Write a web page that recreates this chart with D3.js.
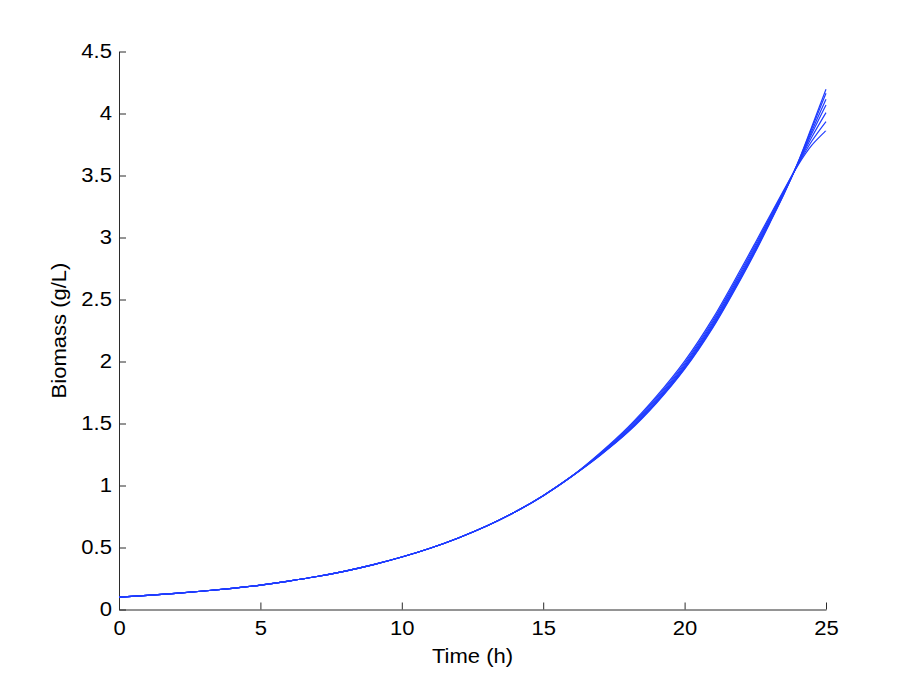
<!DOCTYPE html>
<html>
<head>
<meta charset="utf-8">
<script src="https://cdn.jsdelivr.net/npm/d3@7"></script>
<style>
  html, body { margin: 0; padding: 0; background: #fff; }
  svg { display: block; }
  text { font-family: "Liberation Sans", Arial, Helvetica, sans-serif; }
</style>
</head>
<body>
<svg id="chart" width="913" height="686"></svg>
<script>
// ---- Data ----
const times = [0,1,2,3,4,5,6,7,8,9,10,11,12,13,14,15,16,17,18,19,20,21,22,22.5,23,23.5,24,24.5,25];

// common early part (t = 0..16), identical for all runs
const early = [0.100,0.114,0.130,0.149,0.171,0.197,0.229,0.266,0.310,0.362,0.423,0.494,0.577,0.673,0.786,0.918,1.072];

// late part (t = 17..25) for each of the seven runs
const run1 = [1.240,1.430,1.663,1.938,2.273,2.670,2.883,3.110,3.343,3.600,3.895,4.196];
const run2 = [1.242,1.434,1.668,1.944,2.280,2.678,2.890,3.116,3.346,3.598,3.881,4.164];
const run3 = [1.245,1.440,1.676,1.953,2.291,2.689,2.901,3.125,3.351,3.595,3.859,4.115];
const run4 = [1.248,1.445,1.683,1.962,2.301,2.700,2.911,3.133,3.356,3.592,3.838,4.069];
const run5 = [1.251,1.453,1.694,1.974,2.315,2.715,2.925,3.144,3.362,3.589,3.810,4.007];
const run6 = [1.256,1.461,1.706,1.988,2.331,2.732,2.941,3.157,3.370,3.584,3.778,3.935];
const run7 = [1.260,1.470,1.718,2.003,2.348,2.750,2.958,3.170,3.378,3.580,3.745,3.862];

const runs = [run1, run2, run3, run4, run5, run6, run7];

const xTicks = [0,5,10,15,20,25];
const yTicks = [0,0.5,1,1.5,2,2.5,3,3.5,4,4.5];
const xLabel = "Time (h)";
const yLabel = "Biomass (g/L)";

// ---- Layout ----
const svg = d3.select("#chart");
const mLeft = 119, mRight = 826, mTop = 51.5, mBottom = 609.5;

const x = d3.scaleLinear().domain([0, 25]).range([mLeft, mRight]);
const y = d3.scaleLinear().domain([0, 4.5]).range([mBottom, mTop]);

const axisColor = "#2b2b2b";
const fontSize = 19.5;
const stretch = 1.13;   // reference glyphs are slightly wider than Liberation Sans

// X axis
const gx = svg.append("g").attr("transform", `translate(0,${mBottom})`)
  .call(d3.axisBottom(x).tickValues(xTicks).tickFormat(d3.format("~g"))
        .tickSizeInner(-7).tickSizeOuter(0).tickPadding(12));
// Y axis
const gy = svg.append("g").attr("transform", `translate(${mLeft},0)`)
  .call(d3.axisLeft(y).tickValues(yTicks).tickFormat(d3.format("~g"))
        .tickSizeInner(-7).tickSizeOuter(0).tickPadding(7));

[gx, gy].forEach(g => {
  g.select(".domain").attr("stroke", axisColor).attr("stroke-width", 1);
  g.selectAll(".tick line").attr("stroke", axisColor).attr("stroke-width", 1);
  g.selectAll(".tick text").attr("fill", "#000")
    .style("font-size", fontSize + "px")
    .style("font-family", '"Liberation Sans", Arial, sans-serif');
});
gx.selectAll(".tick text").attr("dy", "0.71em")
  .attr("transform", `scale(${stretch},1)`);
gy.selectAll(".tick text")
  .attr("x", -7 / stretch)
  .attr("transform", `scale(${stretch},1)`);

// Axis labels
svg.append("text")
  .attr("transform", `translate(${(mLeft + mRight) / 2},663) scale(${stretch},1)`)
  .attr("text-anchor", "middle")
  .style("font-size", fontSize + "px")
  .text(xLabel);

svg.append("text")
  .attr("transform", `translate(66,${(mTop + mBottom) / 2}) rotate(-90) scale(${stretch},1)`)
  .attr("text-anchor", "middle")
  .style("font-size", fontSize + "px")
  .text(yLabel);

// Lines
const line = d3.line()
  .x(d => x(d[0])).y(d => y(d[1]))
  .curve(d3.curveCatmullRom.alpha(0.5));

runs.forEach(r => {
  const vals = early.concat(r);
  const pts = times.map((t, i) => [t, vals[i]]);
  svg.append("path")
    .datum(pts)
    .attr("d", line)
    .attr("fill", "none")
    .attr("stroke", "#1f3cff")
    .attr("stroke-width", 1.2);
});
</script>
</body>
</html>
